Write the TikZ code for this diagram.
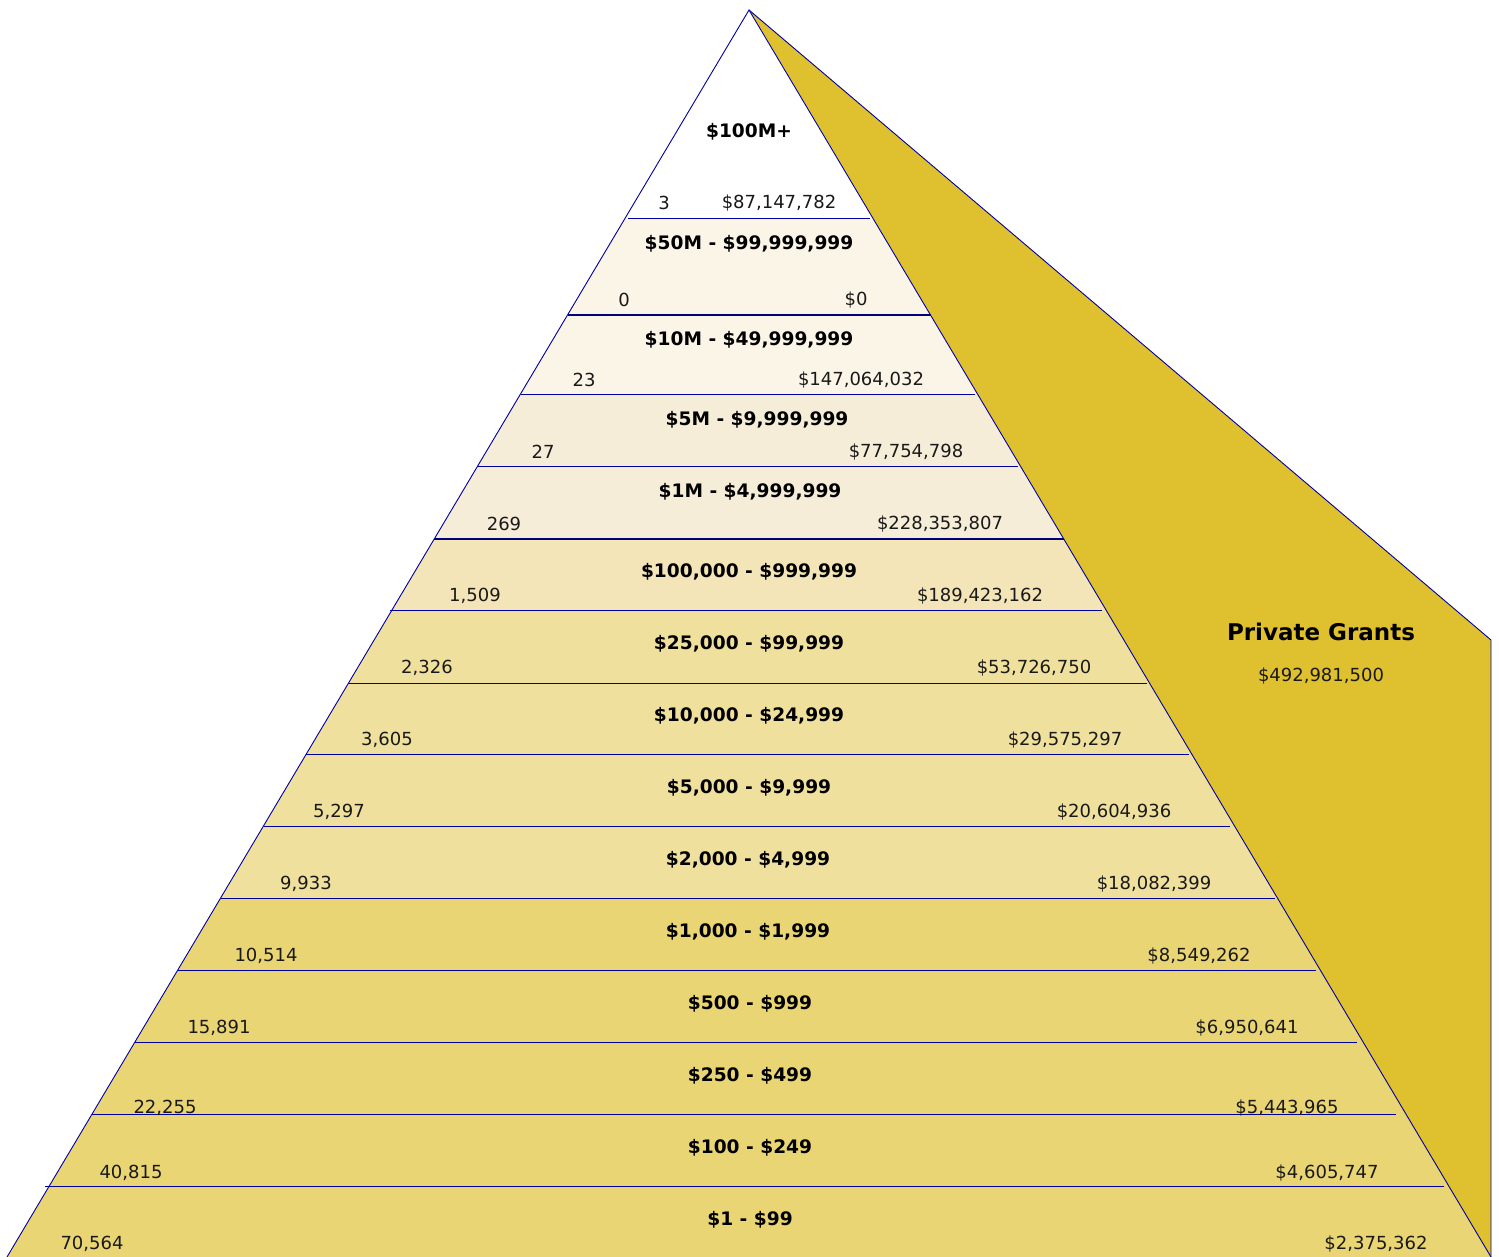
\documentclass[tikz,border=0pt]{standalone}
\usepackage{fontspec}
\setmainfont{DejaVu Sans}
\usepackage{tikz}
\usetikzlibrary{positioning}

\definecolor{PyrCream}{RGB}{251,245,232}
\definecolor{PyrSand}{RGB}{246,237,217}
\definecolor{PyrWheat}{RGB}{243,229,183}
\definecolor{PyrStraw}{RGB}{240,224,158}
\definecolor{PyrGold}{RGB}{233,213,116}
\definecolor{GrantGold}{RGB}{223,192,46}
\definecolor{EdgeBlue}{RGB}{0,0,160}
\definecolor{EdgeNavy}{RGB}{0,0,120}

\tikzset{
  rnglbl/.style={font=\fontsize{18.6}{22}\selectfont\bfseries, text=black, inner sep=0pt, yshift=-2pt},
  cntlbl/.style={font=\fontsize{18}{21}\selectfont, text=black!90, inner sep=0pt, yshift=-2pt},
  thinrule/.style={draw=EdgeBlue, line width=0.9pt},
  thickrule/.style={draw=EdgeNavy, line width=1.8pt}
}

\begin{document}
\begin{tikzpicture}[x=1pt,y=-1pt]
\useasboundingbox (0,0) rectangle (1499,1257);
% grants wedge
\fill[color=GrantGold] (749,10) -- (1491,640) -- (1491,1257) -- cycle;
\draw[thinrule] (749,10) -- (1491,640) -- (1491,1257);
% pyramid layers, bottom up
\fill[color=PyrGold] (749,10) -- (7,1257) -- (1491,1257) -- cycle;
\fill[color=PyrStraw] (749,10) -- (220.6,898) -- (1277.4,898) -- cycle;
\fill[color=PyrWheat] (749,10) -- (392,610) -- (1106,610) -- cycle;
\fill[color=PyrSand] (749,10) -- (434.2,539) -- (1063.8,539) -- cycle;
\fill[color=PyrCream] (749,10) -- (520.5,394) -- (977.5,394) -- cycle;
\fill[color=PyrCream] (749,10) -- (567.5,315) -- (930.5,315) -- cycle;
\fill[color=white] (749,10) -- (625.2,218) -- (872.8,218) -- cycle;
% rules between bands
\draw[thinrule] (628,218) -- (870,218);
\draw[thickrule] (567.5,315) -- (930.5,315);
\draw[thinrule] (520.5,394) -- (975,394);
\draw[thinrule] (477.7,466) -- (1018,466);
\draw[thickrule] (434.2,539) -- (1063.8,539);
\draw[thinrule] (390,610) -- (1102,610);
\draw[thinrule] (348.6,683) -- (1147,683);
\draw[thinrule] (306.3,754) -- (1189,754);
\draw[thinrule] (263.5,826) -- (1230,826);
\draw[thinrule] (220.6,898) -- (1275,898);
\draw[thinrule] (177.8,970) -- (1316,970);
\draw[thinrule] (135,1042) -- (1357,1042);
\draw[thinrule] (92.1,1114) -- (1396,1114);
\draw[thinrule] (45,1186) -- (1444,1186);
% outline
\draw[thinrule] (7,1257) -- (749,10) -- (1491,1257);

\node[rnglbl] (rng1) at (749,130) {\$100M+};
\node[cntlbl] (cnt1) at (664,201) {3};
\node[cntlbl] (amt1) at (779,201) {\$87,147,782};
\node[rnglbl] (rng2) at (749,242) {\$50M - \$99,999,999};
\node[cntlbl] (cnt2) at (624,298) {0};
\node[cntlbl] (amt2) at (856,298) {\$0};
\node[rnglbl] (rng3) at (749,338) {\$10M - \$49,999,999};
\node[cntlbl] (cnt3) at (584,378) {23};
\node[cntlbl] (amt3) at (861,378) {\$147,064,032};
\node[rnglbl] (rng4) at (757,418) {\$5M - \$9,999,999};
\node[cntlbl] (cnt4) at (543,450) {27};
\node[cntlbl] (amt4) at (906,450) {\$77,754,798};
\node[rnglbl] (rng5) at (750,490) {\$1M - \$4,999,999};
\node[cntlbl] (cnt5) at (504,522) {269};
\node[cntlbl] (amt5) at (940,522) {\$228,353,807};
\node[rnglbl] (rng6) at (749,570) {\$100,000 - \$999,999};
\node[cntlbl] (cnt6) at (475,594) {1,509};
\node[cntlbl] (amt6) at (980,594) {\$189,423,162};
\node[rnglbl] (rng7) at (749,642) {\$25,000 - \$99,999};
\node[cntlbl] (cnt7) at (427,666) {2,326};
\node[cntlbl] (amt7) at (1034,666) {\$53,726,750};
\node[rnglbl] (rng8) at (749,714) {\$10,000 - \$24,999};
\node[cntlbl] (cnt8) at (387,738) {3,605};
\node[cntlbl] (amt8) at (1065,738) {\$29,575,297};
\node[rnglbl] (rng9) at (749,786) {\$5,000 - \$9,999};
\node[cntlbl] (cnt9) at (339,810) {5,297};
\node[cntlbl] (amt9) at (1114,810) {\$20,604,936};
\node[rnglbl] (rng10) at (748,858) {\$2,000 - \$4,999};
\node[cntlbl] (cnt10) at (306,882) {9,933};
\node[cntlbl] (amt10) at (1154,882) {\$18,082,399};
\node[rnglbl] (rng11) at (748,930) {\$1,000 - \$1,999};
\node[cntlbl] (cnt11) at (266,954) {10,514};
\node[cntlbl] (amt11) at (1199,954) {\$8,549,262};
\node[rnglbl] (rng12) at (750,1002) {\$500 - \$999};
\node[cntlbl] (cnt12) at (219,1026) {15,891};
\node[cntlbl] (amt12) at (1247,1026) {\$6,950,641};
\node[rnglbl] (rng13) at (750,1074) {\$250 - \$499};
\node[cntlbl] (cnt13) at (165,1106) {22,255};
\node[cntlbl] (amt13) at (1287,1106) {\$5,443,965};
\node[rnglbl] (rng14) at (750,1146) {\$100 - \$249};
\node[cntlbl] (cnt14) at (131,1171) {40,815};
\node[cntlbl] (amt14) at (1327,1171) {\$4,605,747};
\node[rnglbl] (rng15) at (750,1218) {\$1 - \$99};
\node[cntlbl] (cnt15) at (92,1242) {70,564};
\node[cntlbl] (amt15) at (1376,1242) {\$2,375,362};

\node[rnglbl, font=\fontsize{23}{27}\selectfont\bfseries] (grants) at (1321,630) {Private Grants};
\node[cntlbl] (grantsum) at (1321,674) {\$492,981,500};
\end{tikzpicture}
\end{document}
